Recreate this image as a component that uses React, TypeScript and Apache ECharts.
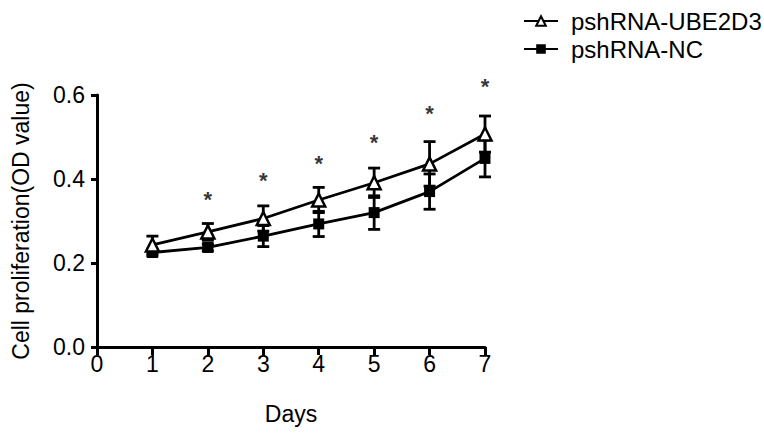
import React, { useEffect, useRef } from "react";
import * as echarts from "echarts";

const days = [1, 2, 3, 4, 5, 6, 7];
const ubeMean = [0.243, 0.274, 0.306, 0.35, 0.391, 0.436, 0.507];
const ubeErr = [0.021, 0.02, 0.03, 0.03, 0.035, 0.053, 0.043];
const ncMean = [0.225, 0.237, 0.264, 0.293, 0.32, 0.37, 0.449];
const ncErr = [0.008, 0.008, 0.025, 0.03, 0.04, 0.042, 0.044];
const starDays = [2, 3, 4, 5, 6, 7];
const starY = [0.352, 0.396, 0.437, 0.488, 0.555, 0.62];
const yTicks = [0, 0.2, 0.4, 0.6];

const FONT = "Liberation Sans, Arial, sans-serif";
const FS = 23;

function errData(mean: number[], err: number[]) {
  return days.map((d, i) => [d, mean[i] - err[i], mean[i] + err[i]]);
}

function errRender(params: any, api: any) {
  const x = api.value(0);
  const lo = api.coord([x, api.value(1)]);
  const hi = api.coord([x, api.value(2)]);
  const w = 6;
  const style = { stroke: "#000", lineWidth: 2.8 };
  return {
    type: "group",
    children: [
      { type: "line", shape: { x1: lo[0], y1: lo[1], x2: hi[0], y2: hi[1] }, style },
      { type: "line", shape: { x1: lo[0] - w, y1: lo[1], x2: lo[0] + w, y2: lo[1] }, style },
      { type: "line", shape: { x1: hi[0] - w, y1: hi[1], x2: hi[0] + w, y2: hi[1] }, style },
    ],
  };
}

export default function App() {
  const ref = useRef<HTMLDivElement>(null);
  useEffect(() => {
    if (!ref.current) return;
    const chart = echarts.init(ref.current, undefined, { renderer: "svg" });
    chart.setOption({
      animation: false,
      backgroundColor: "#fff",
      textStyle: { fontFamily: FONT },
      grid: { left: 97, top: 95, width: 388, height: 252, containLabel: false },
      legend: {
        orient: "vertical",
        left: 518,
        top: 4,
        itemWidth: 34,
        itemHeight: 12,
        itemGap: 4,
        textStyle: { fontSize: 24, color: "#000", fontFamily: FONT, padding: [0, 0, 0, 8] },
        data: ["pshRNA-UBE2D3", "pshRNA-NC"],
      },
      xAxis: {
        type: "value",
        min: 0,
        max: 7,
        interval: 1,
        name: "Days",
        nameLocation: "middle",
        nameGap: 55,
        nameTextStyle: { fontSize: FS, color: "#000", fontFamily: FONT },
        axisLine: { show: true, lineStyle: { color: "#000", width: 3 } },
        axisTick: { show: true, length: 8, lineStyle: { color: "#000", width: 3 } },
        axisLabel: { fontSize: FS, color: "#000", margin: 5, fontFamily: FONT },
        splitLine: { show: false },
      },
      yAxis: {
        type: "value",
        min: 0,
        max: 0.6,
        interval: 0.2,
        name: "Cell proliferation(OD value)",
        nameLocation: "middle",
        nameGap: 65,
        nameTextStyle: { fontSize: FS, color: "#000", fontFamily: FONT },
        axisLine: { show: true, lineStyle: { color: "#000", width: 3 } },
        axisTick: { show: true, length: 6, lineStyle: { color: "#000", width: 3 } },
        axisLabel: {
          fontSize: FS,
          color: "#000",
          margin: 12,
          fontFamily: FONT,
          formatter: (v: number) => (yTicks.some((t) => Math.abs(t - v) < 1e-9) ? v.toFixed(1) : ""),
        },
        splitLine: { show: false },
      },
      series: [
        {
          name: "pshRNA-NC-err",
          type: "custom",
          renderItem: errRender,
          data: errData(ncMean, ncErr),
          encode: { x: 0, y: [1, 2] },
          z: 2,
        },
        {
          name: "pshRNA-UBE2D3-err",
          type: "custom",
          renderItem: errRender,
          data: errData(ubeMean, ubeErr),
          encode: { x: 0, y: [1, 2] },
          z: 2,
        },
        {
          name: "pshRNA-NC",
          type: "line",
          data: days.map((d, i) => [d, ncMean[i]]),
          symbol: "rect",
          symbolSize: 11,
          lineStyle: { color: "#000", width: 2.8 },
          itemStyle: { color: "#000" },
          z: 3,
        },
        {
          name: "pshRNA-UBE2D3",
          type: "line",
          data: days.map((d, i) => [d, ubeMean[i]]),
          symbol: "triangle",
          symbolSize: 13,
          lineStyle: { color: "#000", width: 2.8 },
          itemStyle: { color: "#fff", borderColor: "#000", borderWidth: 2.5 },
          z: 4,
        },
        {
          name: "stars",
          type: "scatter",
          data: starDays.map((d, i) => [d, starY[i]]),
          symbolSize: 1,
          clip: false,
          itemStyle: { color: "rgba(0,0,0,0)" },
          label: {
            show: true,
            position: "inside",
            formatter: "*",
            fontSize: 22,
            fontWeight: "bold",
            color: "#000",
            textBorderWidth: 0,
            fontFamily: FONT,
          },
          z: 5,
        },
      ],
    });
    return () => chart.dispose();
  }, []);
  return (
    <div
      ref={ref}
      style={{ position: "fixed", left: 0, top: 0, width: 764, height: 434, background: "#fff" }}
    />
  );
}
